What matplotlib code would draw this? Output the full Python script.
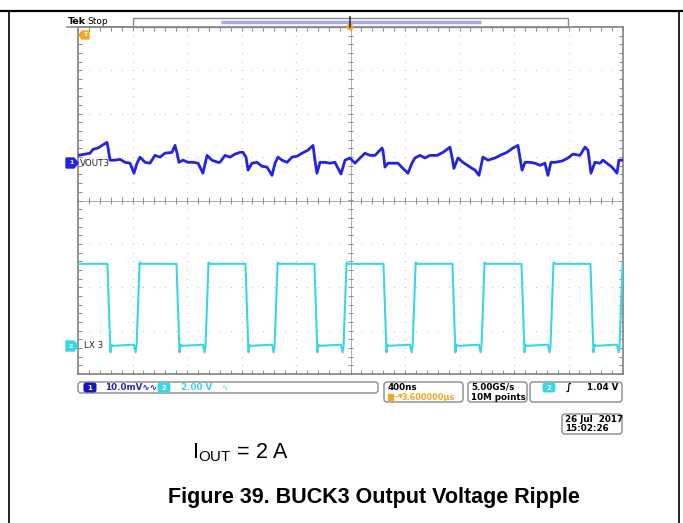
# Oscilloscope capture: BUCK3 output ripple (VOUT3) and switch node (LX3)

import numpy as np
import matplotlib.pyplot as plt
from matplotlib.patches import FancyBboxPatch, Polygon, Rectangle, Ellipse

plt.rcParams['mathtext.fontset'] = 'custom'
plt.rcParams['mathtext.rm'] = 'Liberation Sans'

# time base: 400 ns/div, 10 div; t measured from the left edge of the screen
time_per_div = 400.0
ch1_scale_mv = 10.0     # VOUT3, mV/div
ch2_scale_v = 2.00      # LX3, V/div
ch1_offset_div = 0.86   # channel marker positions (div from screen centre)
ch2_offset_div = -3.35

# VOUT3 ripple (AC)
vout_t_ns = [0, 88, 110, 147, 176, 213, 220, 235, 272, 308, 345, 382, 411, 433, 455, 492,
             528, 565, 602, 638, 690, 712, 727, 741, 771, 807, 844, 881, 917, 947, 983,
             1027, 1042, 1079, 1116, 1152, 1189, 1211, 1233, 1248, 1277, 1314, 1350, 1387,
             1424, 1446, 1468, 1497, 1534, 1571, 1607, 1644, 1688, 1725, 1739, 1754, 1776,
             1813, 1849, 1886, 1930, 1960, 1996, 2033, 2070, 2106, 2143, 2180, 2231, 2238,
             2253, 2275, 2312, 2348, 2385, 2422, 2451, 2473, 2510, 2547, 2583, 2635, 2679,
             2730, 2745, 2759, 2789, 2825, 2877, 2914, 2943, 2972, 3009, 3060, 3097, 3148,
             3192, 3229, 3244, 3259, 3281, 3317, 3354, 3391, 3427, 3449, 3471, 3501, 3552,
             3596, 3633, 3684, 3721, 3743, 3765, 3794, 3831, 3853, 3882, 3919, 3956, 3970,
             3992]
vout_mv = [1.8, 2.3, 3.2, 3.5, 4.1, 4.8, 3.7, 0.7, 0.7, 0.9, 0.2, 0.0, -2.3, 0.0, 1.4, 0.2,
           0.0, 1.8, 1.4, 2.3, 2.5, 4.1, 2.3, 0.2, 0.7, 0.2, 0.2, 0.0, -2.3, 1.8, 0.7,
           0.2, 0.2, 1.8, 1.4, 2.1, 2.5, 2.5, 1.4, -1.6, 0.0, 0.2, -0.7, -0.9,
           -2.8, 0.0, 1.4, 0.7, 0.2, 1.4, 1.6, 2.3, 3.0, 4.1, 0.7, -2.3, 0.2,
           0.2, 0.0, 0.2, -2.5, 0.7, 1.2, 0.0, 1.2, 2.3, 1.8, 1.8, 3.5, 3.0,
           -0.9, 0.0, 0.0, 0.0, -1.2, -2.3, 0.0, 1.2, 1.8, 1.2, 1.8, 1.8, 2.5,
           3.7, 1.4, -1.2, 1.2, 0.2, -0.9, -1.6, -2.8, 1.4, 0.7, 1.2, 1.8, 2.5,
           3.5, 4.1, 1.2, -1.6, 0.2, 0.2, 0.0, -0.5, 0.0, -2.8, 0.2, 0.2, 0.5,
           1.2, 2.1, 1.8, 3.7, 3.0, -2.3, 0.2, 0.0, 0.7, 0.0, -0.9, -2.3, 0.7,
           0.7]

# LX3 switch node: edge times and levels
lx_fall_ns = [220, 727, 1233, 1739, 2246, 2752, 3259, 3765]
lx_rise_ns = [433, 939, 1446, 1952, 2459, 2965, 3471, 3978]
lx_high_v = 3.78
lx_low_v = 0.0
lx_dip_v = -0.30
lx_edge_ns = 22

# screen readouts
ch1_label = "VOUT3"
ch2_label = "LX 3"
ch1_readout = "10.0mV"
ch2_readout = "2.00 V"
horiz_readout = "400ns"
trig_pos_readout = "3.600000\u00b5s"
rate_readout = ["5.00GS/s", "10M points"]
trig_level_readout = "1.04 V"
date_readout = ["26 Jul  2017", "15:02:26"]

blue = "#2323e6"
cyan = "#3ad6e8"
orange = "#f5a623"
grey = "#8a8a8a"

W, H = 683, 523
fig = plt.figure(figsize=(W / 100, H / 100), dpi=100)

# ---------------- scope screen ----------------
ax = fig.add_axes([78 / W, 1 - 374 / H, 545 / W, 347 / H])
ax.set_xlim(0, 10 * time_per_div)
ax.set_ylim(-4, 4)
for s in ax.spines.values():
    s.set_color(grey)
    s.set_linewidth(1.3)
ax.set_xticks(np.arange(0, 4001, 400))
ax.set_xticks(np.arange(0, 4001, 80), minor=True)
ax.set_yticks(np.arange(-4, 5, 1))
ax.set_yticks(np.arange(-4, 4.01, 0.2), minor=True)
ax.tick_params(which='both', direction='in', length=3, width=0.7, color=grey,
               top=True, right=True, labelbottom=False, labelleft=False)

# dotted graticule
gx, gy = np.meshgrid(np.arange(400, 4000, 400), np.arange(-4, 4.01, 0.2))
ax.scatter(gx.ravel(), gy.ravel(), s=0.6, color="#b0b0b0", lw=0, zorder=1)
hx, hy = np.meshgrid(np.arange(0, 4001, 80), np.arange(-3, 4, 1))
ax.scatter(hx.ravel(), hy.ravel(), s=0.6, color="#b0b0b0", lw=0, zorder=1)
# centre cross with ticks
ax.axhline(0, color="#a0a0a0", lw=0.6, zorder=1)
ax.axvline(2000, color="#a0a0a0", lw=0.6, zorder=1)
ax.vlines(np.arange(0, 4001, 80), -0.08, 0.08, color="#909090", lw=0.7, zorder=1)
ax.hlines(np.arange(-4, 4.01, 0.2), 1980, 2020, color="#909090", lw=0.7, zorder=1)

# LX3 waveform from the edge list
lx_t, lx_v = [0], [lx_high_v]
for tf, tr in zip(lx_fall_ns, lx_rise_ns):
    lx_t += [tf - 4, tf + lx_edge_ns - 4, tf + lx_edge_ns + 4, tf + lx_edge_ns + 14,
             tr - 22, tr - 10, tr - 3, tr + lx_edge_ns - 3, tr + lx_edge_ns + 10]
    lx_v += [lx_high_v, lx_dip_v, lx_low_v + 0.05, lx_low_v,
             lx_low_v + 0.05, lx_dip_v, lx_low_v, lx_high_v + 0.06, lx_high_v]
lx_t.append(4000)
lx_v.append(lx_high_v)
lx_t = np.array(lx_t)
lx_v = np.array(lx_v)
ax.plot(lx_t, ch2_offset_div + lx_v / ch2_scale_v, color=cyan, lw=1.5, zorder=3)

# VOUT3 ripple
ax.plot(vout_t_ns, ch1_offset_div + np.array(vout_mv) / ch1_scale_mv, color=blue,
        lw=2.0, zorder=4, solid_joinstyle='round')

# ---------------- overlay (pixel coordinates) ----------------
deco = fig.add_axes([0, 0, 1, 1], zorder=5)
deco.set_xlim(0, W)
deco.set_ylim(H, 0)
deco.axis('off')
deco.patch.set_alpha(0)

# document frame
deco.plot([0, W], [11, 11], color="k", lw=1.6)
deco.plot([9, 9], [11, H], color="k", lw=1.2)
deco.plot([679, 679], [11, H], color="k", lw=1.2)

# top bar
deco.text(68, 21.5, "Tek", fontsize=6.8, fontweight='bold', va='center', ha='left')
deco.text(87, 21, "Stop", fontsize=6.5, va='center', ha='left')
deco.plot([67, 133], [27, 27], color=grey, lw=1.2)
deco.add_patch(Rectangle((133, 18), 435, 9, fill=False, ec=grey, lw=1.0))
deco.plot([221, 481], [22, 22], color="#a8a8f2", lw=2.5, solid_capstyle='butt')
deco.plot([350, 350], [17, 27], color="#333333", lw=1.2)
deco.add_patch(Ellipse((350, 27), 6, 5, color=orange))
# trigger marker, top left
deco.add_patch(Polygon([[79, 35], [82, 31], [89, 31], [89, 39], [82, 39]], color=orange))
deco.text(85.5, 35, "T", fontsize=4.5, color="white", fontweight='bold', ha='center',
          va='center')

# channel markers
for y, col, num, lab, lx in [(163, blue, "1", ch1_label, 80), (346, cyan, "2", ch2_label, 84)]:
    deco.add_patch(Polygon([[66, y - 5], [74, y - 5], [78, y], [74, y + 5], [66, y + 5]],
                           color=col, zorder=6))
    deco.text(71, y, num, fontsize=4.5, color="white", fontweight='bold', ha='center',
              va='center', zorder=7)
    deco.text(lx, y, lab, fontsize=6.3, color="#222222", ha='left', va='center', zorder=7)

# status bar
def rbox(x0, y0, x1, y1):
    deco.add_patch(FancyBboxPatch((x0 + 3, y0 + 3), x1 - x0 - 6, y1 - y0 - 6,
                                  boxstyle="round,pad=3", fc="white", ec=grey, lw=1.0))

def oval(xc, yc, col, num):
    deco.add_patch(FancyBboxPatch((xc - 4, yc - 2.5), 8, 5, boxstyle="round,pad=2.5",
                                  fc=col, ec=col, lw=0))
    deco.text(xc, yc, num, fontsize=5, color="white", fontweight='bold', ha='center',
              va='center')

rbox(78, 382, 378, 393)
oval(90, 387.5, "#1515c8", "1")
deco.text(105, 387.5, ch1_readout + "\u223f\u223f", fontsize=6.3, color="#2525c8",
          fontweight='bold', ha='left', va='center')
oval(164, 387.5, cyan, "2")
deco.text(181, 387.5, ch2_readout, fontsize=6.3, color=cyan, fontweight='bold',
          ha='left', va='center')
deco.text(221, 387.5, "\u223f", fontsize=5.5, color=cyan, ha='left', va='center')

rbox(384, 382, 463, 402)
deco.text(388, 387.5, horiz_readout, fontsize=6.3, fontweight='bold', ha='left', va='center')
deco.add_patch(Rectangle((388, 393.5), 5, 6.5, color=orange))
deco.text(393.5, 397, "\u2192\u25bc", fontsize=4.5, color=orange, ha='left', va='center')
deco.text(402, 397, trig_pos_readout, fontsize=5.9, color=orange, fontweight='bold',
          ha='left', va='center')

rbox(468, 382, 527, 402)
deco.text(471, 387.5, rate_readout[0], fontsize=6.3, fontweight='bold', ha='left', va='center')
deco.text(471, 397, rate_readout[1], fontsize=6.3, fontweight='bold', ha='left', va='center')

rbox(530, 382, 622, 402)
oval(549, 387.5, cyan, "2")
deco.text(569, 387.5, "\u222b", fontsize=7, fontweight='bold', ha='center', va='center')
deco.text(618, 387.5, trig_level_readout, fontsize=6.3, fontweight='bold', ha='right',
          va='center')

rbox(562, 414, 622, 434)
deco.text(565, 419.5, date_readout[0], fontsize=6.3, fontweight='bold', ha='left', va='center')
deco.text(565, 428.5, date_readout[1], fontsize=6.3, fontweight='bold', ha='left', va='center')

# caption
deco.text(192, 453, r"I$_{\mathregular{OUT}}$ = 2 A", fontsize=15.5, family="Liberation Sans",
          ha='left', va='center')
deco.text(374, 497, "Figure 39. BUCK3 Output Voltage Ripple", fontsize=15.5,
          family="Liberation Sans", fontweight='bold', ha='center', va='center')

fig.savefig("out.png", dpi=100)
